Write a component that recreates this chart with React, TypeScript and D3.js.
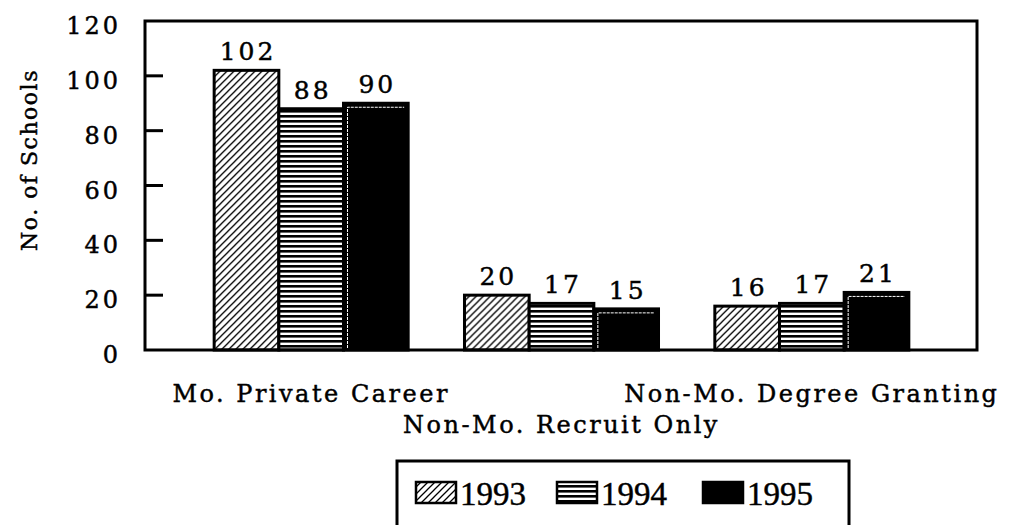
import React from "react";
import * as d3 from "d3";

const categories = ["Mo. Private Career", "Non-Mo. Recruit Only", "Non-Mo. Degree Granting"];
const years = ["1993", "1994", "1995"];
const v1993 = [102, 20, 16];
const v1994 = [88, 17, 17];
const v1995 = [90, 15, 21];
const yTicks = [0, 20, 40, 60, 80, 100, 120];
const yLabel = "No. of Schools";

const series = [v1993, v1994, v1995];
const fills = ["url(#hatch93)", "url(#horiz94)", "#000"];

const W = 1021, H = 525;
const frame = { left: 145, right: 977, top: 21, bottom: 350 };
const FONT = "'DejaVu Serif', serif";
const LFONT = "'Liberation Serif', 'Times New Roman', serif";
const TS = { stroke: "#000", strokeWidth: 0.45 };

export default function App() {
  const x0 = d3.scaleBand<string>().domain(categories).range([186, 937]).paddingInner(0.225).paddingOuter(0.1125);
  const x1 = d3.scaleBand<string>().domain(years).range([0, x0.bandwidth()]);
  const y = d3.scaleLinear().domain([0, 120]).range([frame.bottom, frame.top]);

  const labelY = [402, 433, 402];

  const legendX = [416, 557, 703];

  return (
    <svg width={W} height={H} style={{ position: "absolute", left: 0, top: 0, background: "#fff" }} fontFamily={FONT}>
      <defs>
        <pattern id="hatch93" patternUnits="userSpaceOnUse" width="7" height="7">
          <rect width="7" height="7" fill="#fff" />
          <path d="M-1,1 L1,-1 M0,7 L7,0 M6,8 L8,6" stroke="#000" strokeWidth="1.3" />
        </pattern>
        <pattern id="horiz94" patternUnits="userSpaceOnUse" width="6" height="5">
          <rect width="6" height="5" fill="#fff" />
          <rect y="0" width="6" height="2.6" fill="#000" />
        </pattern>
      </defs>
      <rect x={0} y={0} width={W} height={H} fill="#fff" />

      {/* bars */}
      {categories.map((c, ci) => (
        <g key={c} transform={`translate(${x0(c)},0)`}>
          {years.map((yr, si) => {
            const v = series[si][ci];
            const bx = x1(yr)!;
            const bw = x1.bandwidth();
            const by = y(v);
            return (
              <g key={yr}>
                <rect x={bx} y={by} width={bw} height={frame.bottom - by} fill={fills[si]} stroke="#000" strokeWidth={3} />
                {si === 2 && (
                  <path d={`M${bx + 4},${frame.bottom - 2} V${by + 4} H${bx + bw - 4}`} fill="none" stroke="#fff" strokeWidth={1} strokeDasharray="3,1" />
                )}
                <text x={bx + bw / 2 + 1.5} y={by - 10} textAnchor="middle" fontSize={25} letterSpacing={3} {...TS}>{v}</text>
              </g>
            );
          })}
        </g>
      ))}

      {/* frame */}
      <rect x={frame.left} y={frame.top} width={frame.right - frame.left} height={frame.bottom - frame.top} fill="none" stroke="#000" strokeWidth={3} />

      {/* y ticks */}
      {yTicks.map((t) => (
        <g key={t}>
          {t > 0 && t < 120 && <line x1={frame.left} x2={frame.left + 18} y1={y(t)} y2={y(t)} stroke="#000" strokeWidth={3} />}
          <text x={121} y={y(t) + 13} textAnchor="end" fontSize={24} letterSpacing={3} {...TS}>{t}</text>
        </g>
      ))}

      {/* y label */}
      <text transform={`translate(37,160) rotate(-90)`} textAnchor="middle" fontSize={22} letterSpacing={1.5} {...TS}>{yLabel}</text>

      {/* category labels */}
      {categories.map((c, i) => (
        <text key={c} x={x0(c)! + x0.bandwidth() / 2} y={labelY[i]} textAnchor="middle" fontSize={24} letterSpacing={2.5} {...TS}>{c}</text>
      ))}

      {/* legend */}
      <rect x={397} y={461} width={452} height={80} fill="#fff" stroke="#000" strokeWidth={3} />
      {years.map((yr, i) => (
        <g key={yr}>
          <rect x={legendX[i]} y={482} width={40} height={21} fill={fills[i]} stroke="#000" strokeWidth={2.5} />
          <text x={legendX[i] + 44} y={505} fontSize={33} fontFamily={LFONT} {...TS}>{yr}</text>
        </g>
      ))}
    </svg>
  );
}
